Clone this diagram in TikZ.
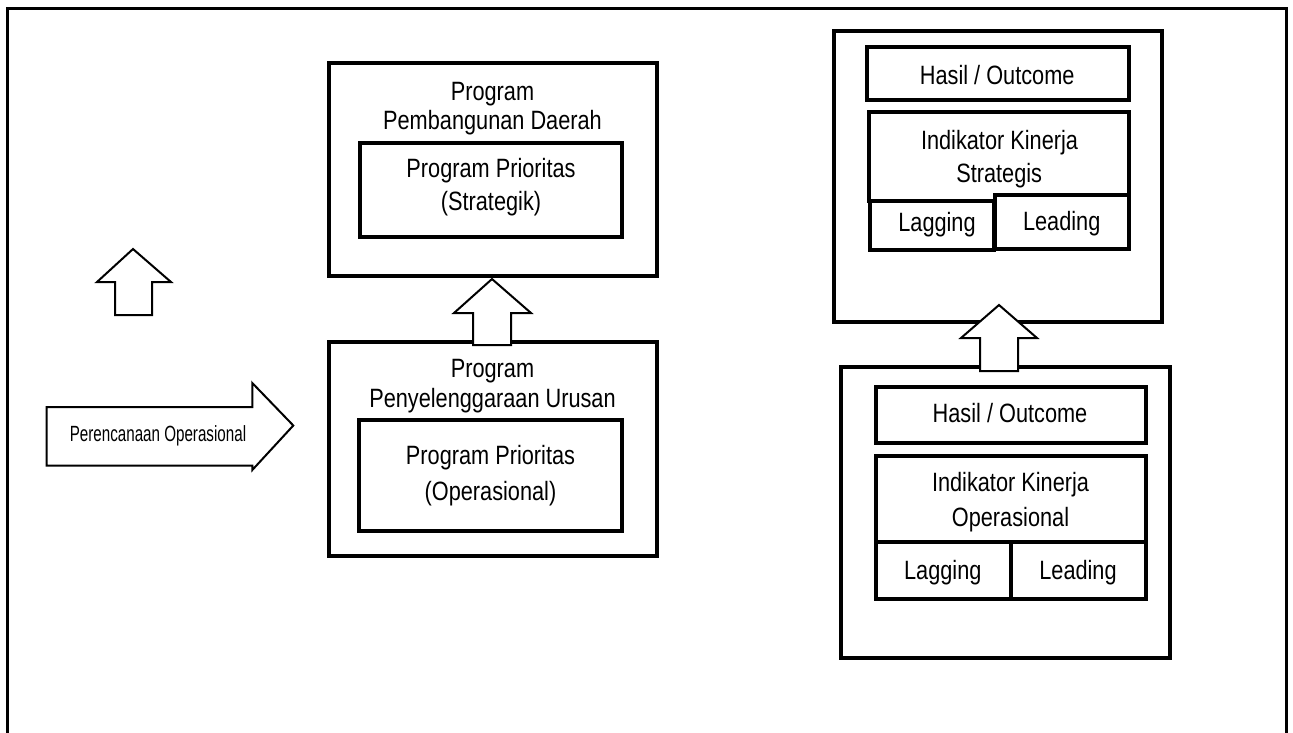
\documentclass[tikz,border=0pt]{standalone}
\usepackage{fontspec}
\setmainfont{Liberation Sans}[FakeStretch=0.82]
\newfontfamily\smallfont{Liberation Sans}[FakeStretch=0.69]
\begin{document}
\begin{tikzpicture}[x=1pt,y=-1pt,
  box/.style={draw,line width=4pt,inner sep=0pt,fill=white},
  lbl/.style={anchor=base,inner sep=0pt,font=\fontsize{26.5}{30}\selectfont},
  slbl/.style={anchor=base,inner sep=0pt,font=\smallfont\fontsize{22}{26}\selectfont},
  blockarrow/.style={draw,line width=2pt,fill=white,line join=miter}]
\useasboundingbox (0,0) rectangle (1293,732);
\draw[line width=3pt] (7.5,745) -- (7.5,8.5) -- (1286.5,8.5) -- (1286.5,745);

% left column
\node[box,minimum width=328pt,minimum height=213pt] (b1) at (492.5,169.5) {};
\node[box,minimum width=262pt,minimum height=93.5pt] (b1i) at (490.5,189.75) {};
\node[box,minimum width=328.5pt,minimum height=214.5pt] (b2) at (492.75,448.75) {};
\node[box,minimum width=262.5pt,minimum height=110.5pt] (b2i) at (490.25,475.25) {};

\node[lbl] (t1a) at (492.5,100) {Program};
\node[lbl] (t1b) at (492.5,129.3) {Pembangunan Daerah};
\node[lbl] (t1c) at (491,177.7) {Program Prioritas};
\node[lbl] (t1d) at (491,210.7) {(Strategik)};
\node[lbl] (t2a) at (492.5,377.7) {Program};
\node[lbl] (t2b) at (492.5,407.3) {Penyelenggaraan Urusan};
\node[lbl] (t2c) at (490.5,464.3) {Program Prioritas};
\node[lbl] (t2d) at (490.5,500.7) {(Operasional)};

% right column top
\node[box,minimum width=328.3pt,minimum height=291pt] (r1) at (997.85,176) {};
\node[box,minimum width=262pt,minimum height=52.8pt] (r1h) at (997.5,73.4) {};
\node[box,minimum width=260.3pt,minimum height=89pt] (r1k) at (998.85,156.2) {};
\node[box,minimum width=124pt,minimum height=49.3pt] (r1lag) at (932,225.35) {};
\node[box,minimum width=134pt,minimum height=54pt] (r1lead) at (1062,222) {};
\node[lbl] (tr1a) at (997.2,84) {Hasil / Outcome};
\node[lbl] (tr1b) at (999.5,149.3) {Indikator Kinerja};
\node[lbl] (tr1c) at (999.2,182.7) {Strategis};
\node[lbl] (tr1d) at (937,231.7) {Lagging};
\node[lbl] (tr1e) at (1061.7,230.7) {Leading};

% right column bottom
\node[box,minimum width=329.4pt,minimum height=290.7pt] (r2) at (1005.5,512.15) {};
\node[box,minimum width=270pt,minimum height=56pt] (r2h) at (1010.8,414.5) {};
\node[box,minimum width=270pt,minimum height=86.2pt] (r2k) at (1010.8,498.9) {};
\node[box,minimum width=135pt,minimum height=57.2pt] (r2lag) at (943.3,570.6) {};
\node[box,minimum width=135pt,minimum height=57.2pt] (r2lead) at (1078.3,570.6) {};
\node[lbl] (tr2a) at (1010,422.7) {Hasil / Outcome};
\node[lbl] (tr2b) at (1010.5,491.7) {Indikator Kinerja};
\node[lbl] (tr2c) at (1010.5,526) {Operasional};
\node[lbl] (tr2d) at (942.8,579.3) {Lagging};
\node[lbl] (tr2e) at (1078,579.3) {Leading};

% block arrows
\draw[blockarrow] (133,249) -- (171,282) -- (152,282) -- (152,315) -- (115,315) -- (115,282) -- (97,282) -- cycle;
\draw[blockarrow] (492,279) -- (531,313) -- (511,313) -- (511,345) -- (473,345) -- (473,313) -- (454,313) -- cycle;
\draw[blockarrow] (999,305) -- (1037,338) -- (1018,338) -- (1018,371) -- (980,371) -- (980,338) -- (961,338) -- cycle;
\draw[blockarrow] (46.5,407) -- (252.3,407) -- (252.3,383) -- (293.3,425.5) -- (252.3,470) -- (252.3,465.5) -- (46.5,465.5) -- cycle;
\node[slbl] (tp) at (158,441.7) {Perencanaan Operasional};
\end{tikzpicture}
\end{document}
